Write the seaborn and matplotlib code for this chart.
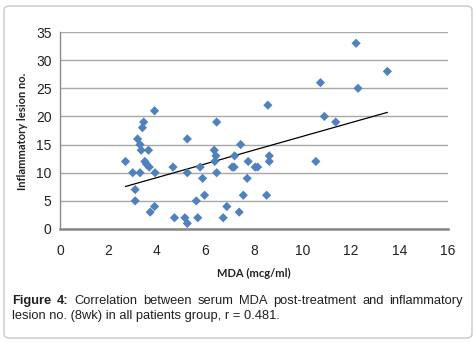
import numpy as np
import pandas as pd
import seaborn as sns
import matplotlib
matplotlib.use("Agg")
import matplotlib.pyplot as plt
from matplotlib.patches import FancyBboxPatch

# values
mda = [2.7, 3.0, 3.1, 3.1, 3.3, 3.2, 3.3, 3.35, 3.45, 3.4, 3.5, 3.57, 3.65, 3.68,
       3.72, 3.9, 3.9, 3.92, 4.66, 4.72, 5.15, 5.25, 5.25, 5.25, 5.62, 5.68, 5.78,
       5.88, 5.96, 6.36, 6.38, 6.43, 6.46, 6.46, 6.73, 6.88, 7.1, 7.18, 7.2, 7.39,
       7.45, 7.56, 7.72, 7.76, 8.05, 8.15, 8.52, 8.57, 8.63, 8.63, 10.55, 10.74,
       10.9, 11.37, 12.21, 12.29, 13.5]
lesions = [12, 10, 7, 5, 10, 16, 15, 14, 19, 18, 12, 11.5, 14, 11,
           3, 4, 21, 10, 11, 2, 2, 1, 16, 10, 5, 2, 11,
           9, 6, 14, 12, 13, 19, 10, 2, 4, 11, 11, 13, 3,
           15, 6, 9, 12, 11, 11, 6, 22, 13, 12, 12, 26,
           20, 19, 33, 25, 28]
x_ticks = [0, 2, 4, 6, 8, 10, 12, 14, 16]
y_ticks = [0, 5, 10, 15, 20, 25, 30, 35]

x_label = "MDA (mcg/ml)"
y_label = "Inflammatory lesion no."
caption_line1 = "Figure 4: Correlation between serum MDA post-treatment and inflammatory"
caption_line2 = "lesion no. (8wk) in all patients group, r = 0.481."

df = pd.DataFrame({"mda": mda, "lesions": lesions})

sns.set_theme(style="white")
plt.rcParams["font.family"] = ["Liberation Sans", "DejaVu Sans"]

W, H = 477, 342
fig = plt.figure(figsize=(W / 100, H / 100), dpi=100)
fig.patch.set_facecolor("white")

# rounded frame around everything
frame = FancyBboxPatch((4 / W, 4 / H), 468 / W, 332 / H,
                       boxstyle="round,pad=0,rounding_size=0.012",
                       transform=fig.transFigure, facecolor="none",
                       edgecolor="#c9c9c9", lw=1.0)
fig.patches.append(frame)

ax = fig.add_axes([60 / W, 113 / H, 388 / W, 197 / H])

sns.scatterplot(data=df, x="mda", y="lesions", marker="D", s=22,
                color="#4F81BD", edgecolor="none", linewidth=0, ax=ax, zorder=3)
sns.regplot(data=df, x="mda", y="lesions", scatter=False, ci=None, truncate=True,
            color="black", line_kws={"lw": 0.9}, ax=ax)

ax.set_xlim(0, 16)
ax.set_ylim(0, 35)
ax.set_xticks(x_ticks)
ax.set_yticks(y_ticks)
ax.tick_params(axis="both", length=0, labelsize=10, colors="#222222")
ax.tick_params(axis="x", pad=11)
ax.tick_params(axis="y", pad=6)

ax.yaxis.grid(True, color="#a8a8a8", lw=1.0)
ax.xaxis.grid(False)
ax.set_axisbelow(True)
for side in ["top", "right"]:
    ax.spines[side].set_visible(False)
ax.spines["left"].set_color("#8a8a8a")
ax.spines["left"].set_linewidth(1.0)
ax.spines["bottom"].set_color("#868686")
ax.spines["bottom"].set_linewidth(1.8)

ax.set_xlabel("")
ax.set_ylabel("")
fig.text(254 / W, 1 - 273 / H, x_label, ha="center", va="center",
         fontsize=8, fontweight="bold", family=["Lato", "DejaVu Sans"], color="#222222")
fig.text(23 / W, 1 - 131 / H, y_label, ha="center", va="center", rotation=90,
         fontsize=8, fontweight="bold", family=["Lato", "DejaVu Sans"], color="#222222")

# caption: first line justified between the frame margins, second line left
fig.canvas.draw()
renderer = fig.canvas.get_renderer()
cap_size = 9.3
x0, x1 = 12 / W, 463 / W
y1 = 1 - 304 / H
y2 = 1 - 319 / H
words = caption_line1.split(" ")
texts = []
for i, w in enumerate(words):
    weight = "bold" if i < 2 else "normal"
    t = fig.text(0, y1, w, fontsize=cap_size, fontweight=weight,
                 color="#231f20", ha="left", va="baseline")
    texts.append(t)
widths = [t.get_window_extent(renderer).width / W for t in texts]
gap = (x1 - x0 - sum(widths)) / (len(texts) - 1)
pos = x0
for t, w in zip(texts, widths):
    t.set_x(pos)
    pos += w + gap
fig.text(x0, y2, caption_line2, fontsize=cap_size, color="#231f20",
         ha="left", va="baseline")

fig.savefig("out.png", dpi=100)
